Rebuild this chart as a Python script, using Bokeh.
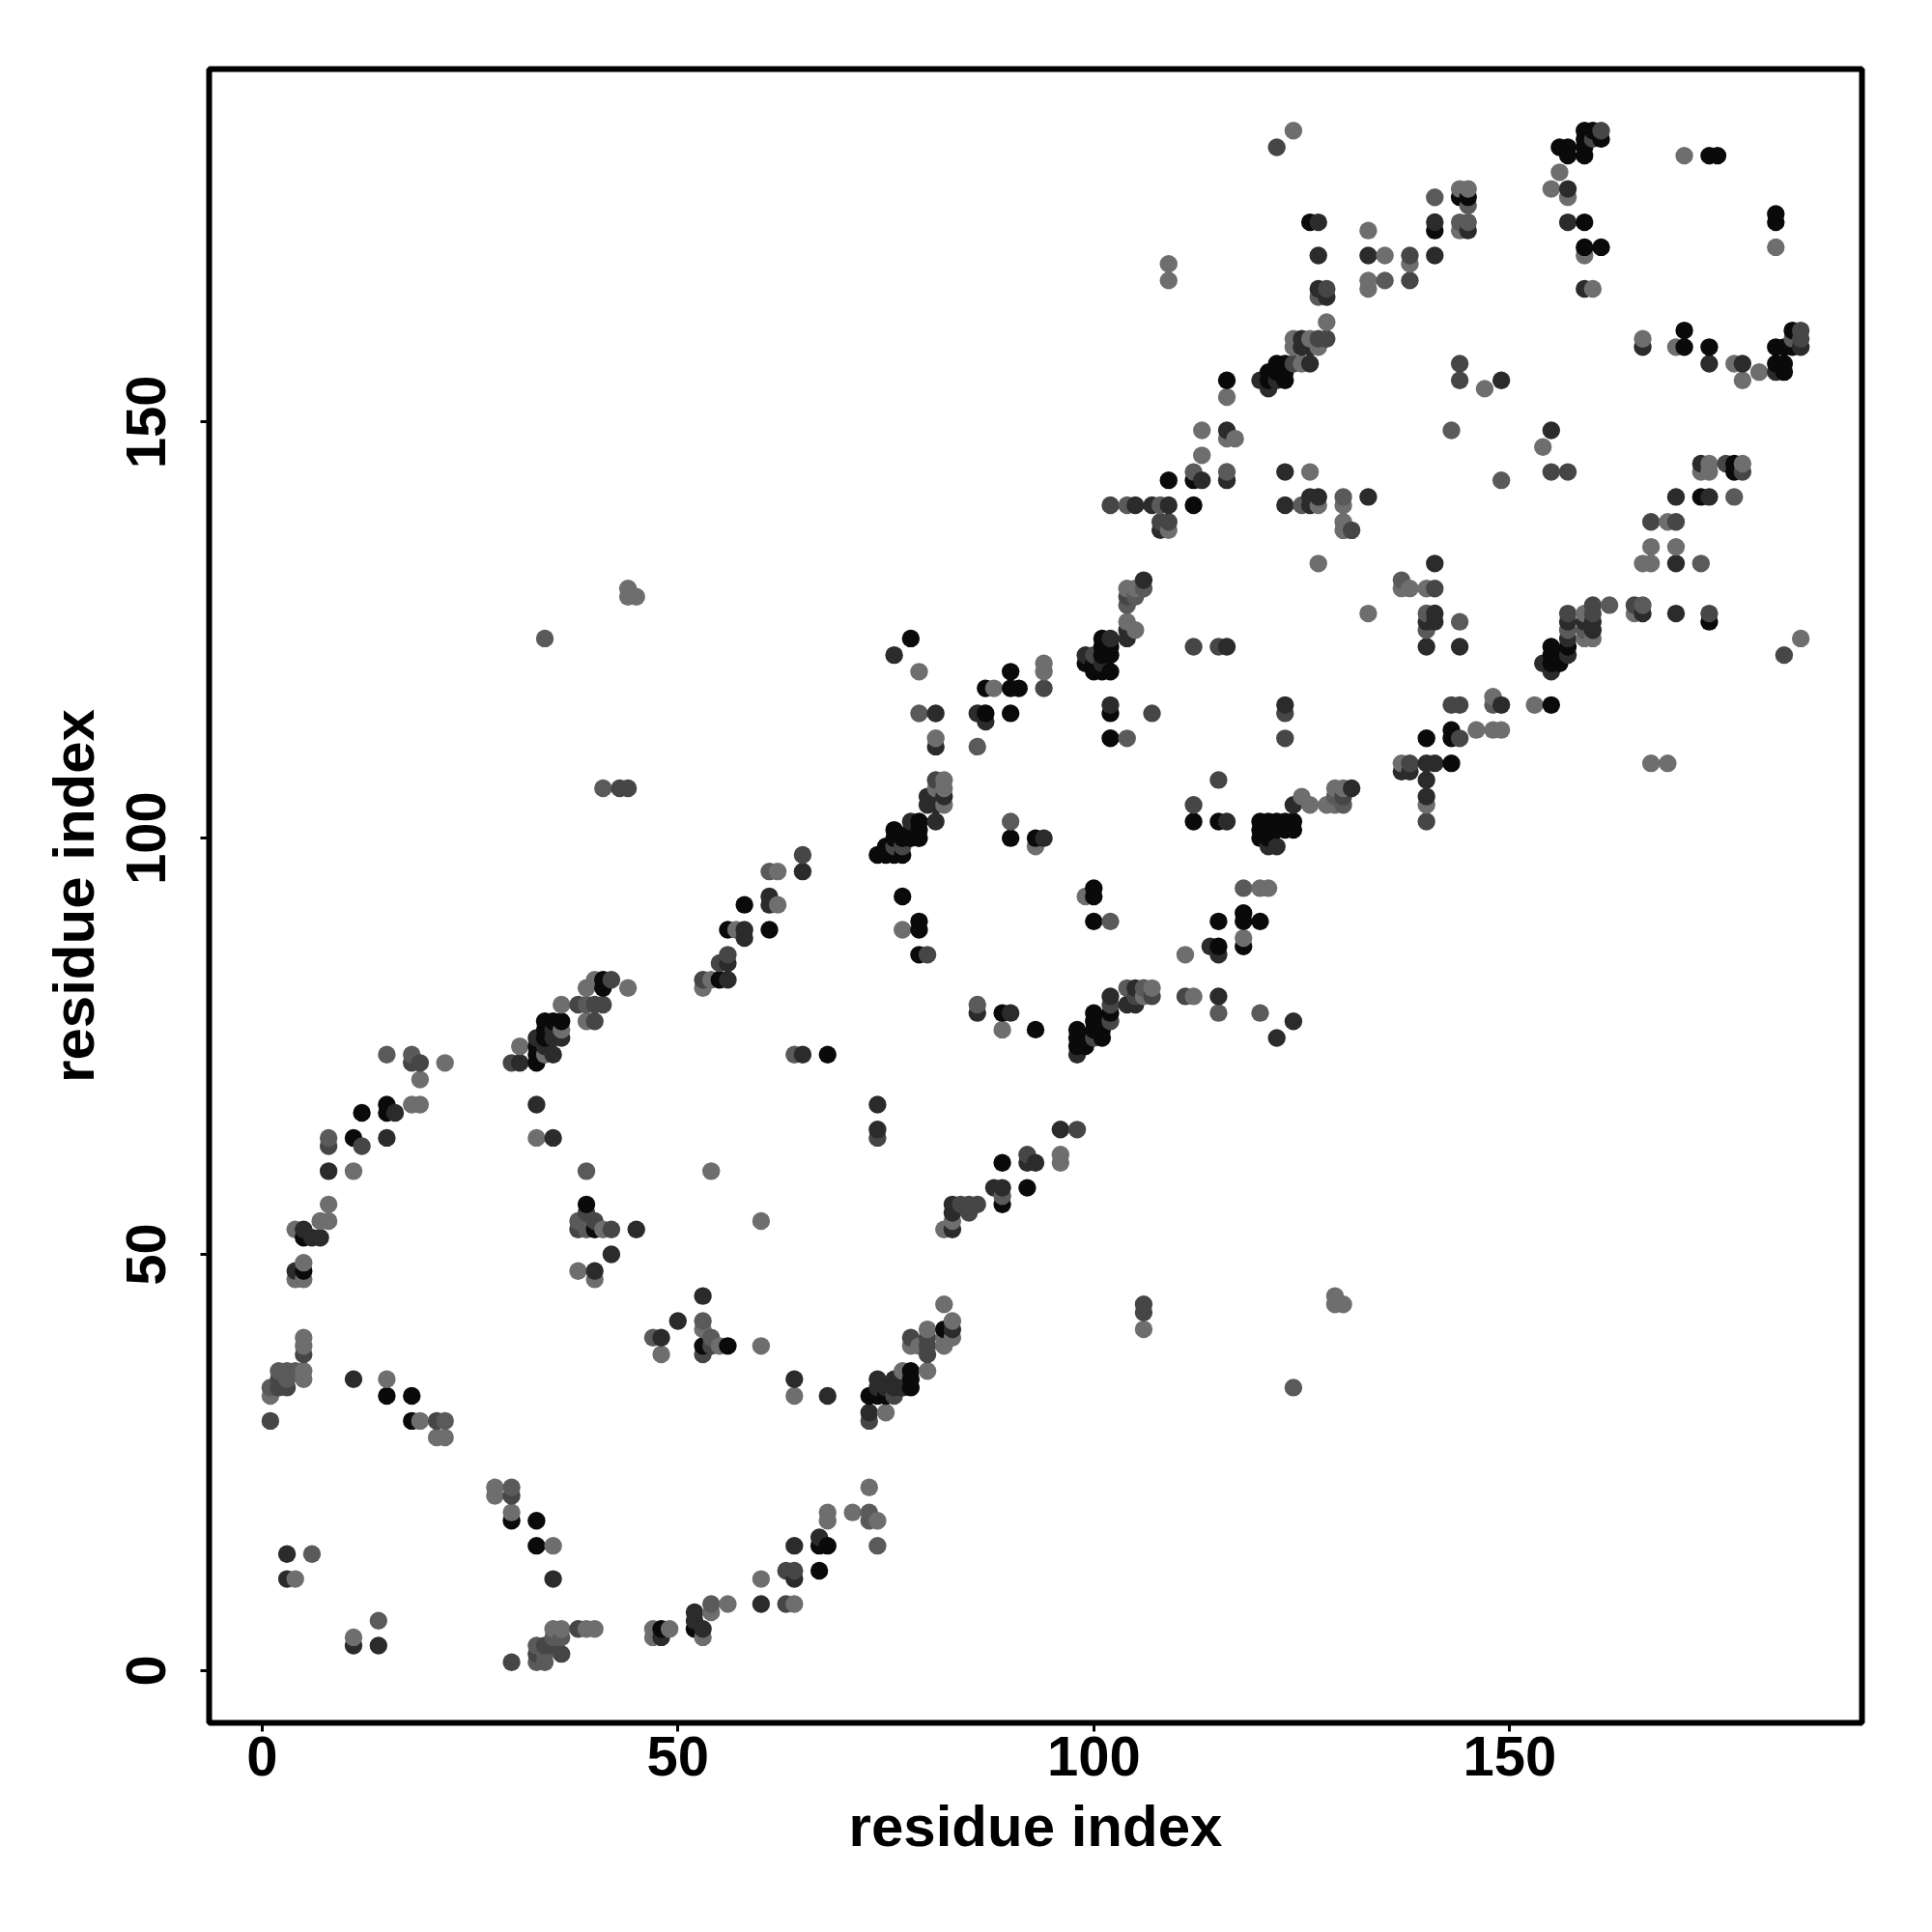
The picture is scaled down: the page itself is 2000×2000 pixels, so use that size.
import numpy as np
from bokeh.plotting import figure
from bokeh.models import ColumnDataSource, FixedTicker, Range1d
from bokeh.embed import file_html
from bokeh.resources import INLINE

tick_labels = [0, 50, 100, 150]
x_label = "residue index"
y_label = "residue index"

black_pts = [(5,48),(15,33),(18,33),(18,30),(30,18),(33,18),(33,15),(48,5),(15,68),(15,67),(12,67),(11,64),(5,52),(34,78),(35,78),(36,78),(34,77),(34,76),(33,75),(33,74),(33,73),(41,83),(41,82),(39,56),(40,53),
(53,39),(56,39),(73,33),(74,33),(75,33),(78,36),(78,35),(78,34),(82,41),(67,15),(68,15),(67,12),(52,5),(58,92),(61,89),(56,89),(55,83),(68,74),(77,93),(79,90),(79,89),(79,86),
(90,100),(93,100),(100,94),(100,93),(100,90),(118,91),(118,90),(115,90),(120,90),(118,87),(115,87),(89,79),(93,77),(98,77),(98,76),(98,75),(99,76),(99,75),(100,79),(100,78),(100,77),(101,78),(101,77),(101,76),(102,79),(89,61),(92,58),(89,56),
(87,118),(90,120),(90,118),(91,118),(87,115),(90,115),(99,121),(100,120),(100,121),(101,124),(102,124),(101,123),(102,123),(101,122),(101,120),(102,120),(102,115),(102,112),(112,102),(115,102),(120,102),(120,101),(120,100),(121,102),(121,101),(121,100),(122,102),(122,101),(123,102),(123,101),(124,102),(124,101),
(74,98),(75,98),(76,98),(77,98),(75,99),(77,99),(76,100),(77,100),(76,101),(78,101),(79,102),(79,101),(79,100),(78,100),(90,100),(94,100),
(109,143),(112,143),(112,140),(143,113),(143,112),(140,112),(143,109),(155,116),(155,123),(155,122),(155,121),(156,122),(156,121),(157,123),(171,161),(171,159),(174,159),(182,159),(183,159),(182,157),(183,157),(183,156),(184,161),(184,159),(173,141),(177,145),(177,144),(174,126),
(121,156),(122,156),(123,156),(121,155),(123,155),(122,157),(123,157),(141,173),(144,177),(145,177),(156,183),(157,183),(157,182),(159,183),(159,182),(159,185),(159,184),(160,185),(161,184),(159,174),(159,171),(161,171),(174,182),(175,182),(182,175),(182,174),(126,174),(78,124),(102,122),(116,155)]

dark_pts = [(4,48),(11,35),(3,14),(3,11),(35,11),(11,3),(14,3),(40,48),(42,50),(48,40),(50,42),(48,4),(52,7),(52,6),(8,60),(7,52),(6,52),(5,53),(16,67),(15,64),(36,76),(35,76),(35,77),(33,76),(34,75),(31,73),(35,74),(33,68),(35,64),(45,53),(42,50),(40,48),
(53,45),(64,35),(68,33),(74,35),(73,31),(74,34),(75,34),(76,35),(76,34),(77,34),(83,41),(67,16),(64,15),(64,11),(60,8),(53,5),(65,96),(61,93),(61,92),(58,89),(58,88),(56,85),(56,83),(65,74),(74,68),(74,65),(83,56),(83,55),(83,53),
(94,100),(86,79),(90,79),(102,81),(98,74),(114,87),(115,86),(115,81),(124,78),(122,76),(105,82),(104,80),(105,80),(96,65),(92,61),(93,61),(89,58),(88,58),
(76,122),(86,115),(87,114),(81,115),(81,111),(99,122),(104,124),(104,125),(102,124),(116,123),(116,102),(123,116),(124,104),(80,105),(80,104),(82,105),(81,104),(81,102),(122,99),(121,99),(78,102),
(116,149),(113,143),(116,143),(123,144),(123,140),(126,141),(126,140),(127,141),(133,141),(105,140),(107,140),(109,140),(108,137),(106,131),(141,133),(141,127),(141,126),(140,126),(140,123),(144,123),(149,116),(143,116),(141,109),(140,109),(140,107),(140,105),(138,108),(137,108),(131,106),
(166,159),(174,157),(178,157),(182,156),(185,159),(155,149),(149,155),(173,145),(170,141),(174,141),(170,133),(166,127),(170,127),(157,126),(157,122),(160,125),(154,121),(155,120),(159,126),(160,126),(157,124),
(127,174),(127,170),(128,165),(133,170),(141,170),(141,174),(125,160),(125,159),(126,159),(126,157),(120,155),(122,155),(121,154),(145,173),(157,178),(157,174),(159,166),(127,166),(102,116),(101,121)]

dgray_pts = [(5,38),(1,30),(30,1),(2,35),(3,34),(2,34),(33,2),(34,3),(36,2),(35,3),(38,5),(30,21),(8,63),(12,63),(18,73),(19,73),(30,73),(38,53),(40,54),(42,53),(39,55),(41,80),(40,80),(38,80),(40,78),(42,83),(21,30),
(53,38),(54,39),(78,40),(80,38),(80,39),(80,40),(76,33),(73,30),(63,12),(64,12),(63,8),(65,98),(56,86),(55,85),(53,83),(74,64),(80,86),
(98,65),(118,94),(86,80),(92,62),(111,81),(105,81),(107,81),(102,80),(102,78),(100,76),(85,56),(86,56),(85,55),(84,56),(89,57),
(94,118),(112,123),(102,140),(108,138),(109,138),(115,107),(112,104),(81,107),(107,115),(123,115),(123,112),(115,123),(100,122),(104,129),(131,137),(137,131),(141,130),(138,109),(140,102),(129,105),(130,105),(143,116),(144,116),(144,112),(183,122),
(144,157),(144,155),(149,143),(143,149),(155,144),(157,144),(176,145),(178,144),(167,138),(170,138),(165,128),(174,127),(160,127),(160,128),(157,127),
(128,166),(138,170),(135,167),(138,167),(145,176),(127,160),(128,160),(124,157),(122,183),(161,185),(160,184),(185,161),(185,160),(43,106),(44,106),(106,44),(106,43),(77,99),(76,99)]

gray_pts = [(6,14),(14,6),(15,74),(8,64),(33,3),(34,2),(2,36),(3,36),(4,36),(3,35),(1,34),(33,1),(34,1),(35,4),(36,4),(47,40),(30,22),(39,60),(18,74),(39,53),(38,54),(39,80),(61,96),(64,74),(53,42),(54,40),(73,19),(73,18),(74,15),(54,8),(22,30),
(89,57),(118,94),(102,90),(79,115),(86,111),(90,102),(104,112),(104,82),(120,79),(115,79),(115,79),(106,82),(86,80),
(125,140),(108,140),(112,144),(116,144),(130,141),(140,127),(140,125),(137,131),(144,126),(104,128),(148,116),(149,143),(127,165),(135,167),(145,174),(106,130),(105,129),(34,124),(124,34),(41,106),(141,177),(145,176),(130,104),(129,105),(104,140),(143,149),(173,133),(177,141),(162,128),(166,128),(159,125),(157,125),(184,160),(144,174)]

light_pts = [(4,47),(5,47),(5,49),(5,40),(5,39),(5,36),(5,35),(1,33),(15,35),(19,30),(21,28),(22,28),(28,22),(28,21),(30,19),(35,15),(4,11),(11,4),(35,5),(36,5),(39,5),(40,5),(47,5),(47,4),(49,5),(38,48),(40,47),(48,38),
(22,73),(19,71),(18,68),(19,68),(11,60),(8,56),(7,54),(8,54),(4,53),(36,80),(39,82),(40,83),(44,82),(39,78),(36,77),(31,75),(34,74),(33,64),(41,53),
(53,41),(55,39),(60,39),(64,33),(75,31),(77,36),(80,36),(80,41),(79,39),(78,39),(82,44),(83,42),(83,40),(82,39),(82,40),(73,22),(68,19),(68,18),(71,19),(74,18),(60,11),(64,8),(54,7),(56,8),(53,4),(62,96),(62,92),(57,89),(54,83),(53,82),(54,60),(60,54),(77,89),(83,54),(82,53),
(93,99),(99,93),(120,94),(121,94),(118,88),(111,86),(89,77),(106,81),(107,82),(112,81),(96,62),(96,61),(79,120),(88,118),(94,121),(94,120),(81,112),(82,107),(82,106),(81,106),(82,104),(105,125),(104,126),(104,130),(105,130),(113,149),(113,146),(116,153),(116,148),(117,148),(126,144),(127,140),(130,140),(130,138),(130,137),(127,133),(109,137),(133,127),(137,130),(138,130),(140,130),(148,117),(153,116),(146,113),(148,113),(149,113),(137,109),(167,109),(169,109),(185,124),(140,104),(129,106),(130,106),(129,104),(128,104),(126,104),(125,105),
(166,160),(170,159),(177,157),(178,155),(180,156),(147,154),(154,147),(174,145),(173,144),(174,144),(178,145),(169,138),(167,135),(170,135),(166,133),(167,133),(165,127),(159,124),(160,124),(159,127),
(124,185),(128,162),(133,173),(135,170),(138,169),(133,167),(133,166),(144,178),(145,178),(144,173),(156,180),(155,178),(157,177),(159,170),(160,166),(171,182),(182,171),(124,160),(126,160),(124,159),(127,159),(125,157),
(109,169),(109,167),(106,41),(129,45),(130,44),(129,44),(44,130),(44,129),(45,129)]

shades = {"#0a0a0a": black_pts, "#2b2b2b": dark_pts, "#464646": dgray_pts, "#5a5a5a": gray_pts, "#6e6e6e": light_pts}

# later lists win if a cell was read twice; draw in x then y order, as the overlaps show
cells = {}
for colour, pts in shades.items():
    for pt in pts:
        cells[pt] = colour
keys = sorted(cells)
source = ColumnDataSource(dict(x=[k[0] for k in keys], y=[k[1] for k in keys], c=[cells[k] for k in keys]))

p = figure(width=1984, height=1984, output_backend="svg", toolbar_location=None,
           x_range=Range1d(-6.36, 192.36), y_range=Range1d(-6.28, 192.4),
           min_border_left=216, min_border_right=57, min_border_top=71, min_border_bottom=201,
           background_fill_color="white", border_fill_color="white")
p.scatter("x", "y", source=source, size=18.4, marker="circle", fill_color="c", line_color=None)

p.grid.visible = False
p.outline_line_color = "black"
p.outline_line_width = 6
for ax, lab in ((p.xaxis[0], x_label), (p.yaxis[0], y_label)):
    ax.ticker = FixedTicker(ticks=tick_labels)
    ax.axis_line_color = None
    ax.minor_tick_line_color = None
    ax.major_tick_line_color = "black"
    ax.major_tick_line_width = 3
    ax.major_tick_in = 0
    ax.major_tick_out = 9
    ax.major_label_text_font = "Liberation Sans"
    ax.major_label_text_font_style = "bold"
    ax.major_label_text_font_size = "58px"
    ax.major_label_text_color = "black"
    ax.axis_label = lab
    ax.axis_label_text_font = "Liberation Sans"
    ax.axis_label_text_font_style = "bold"
    ax.axis_label_text_font_size = "60px"
    ax.axis_label_text_color = "black"
p.yaxis[0].major_label_orientation = "vertical"
p.xaxis[0].major_label_standoff = 5
p.yaxis[0].major_label_standoff = 36
p.xaxis[0].axis_label_standoff = 16
p.yaxis[0].axis_label_standoff = 19

open("out.html", "w").write(file_html(p, INLINE))
